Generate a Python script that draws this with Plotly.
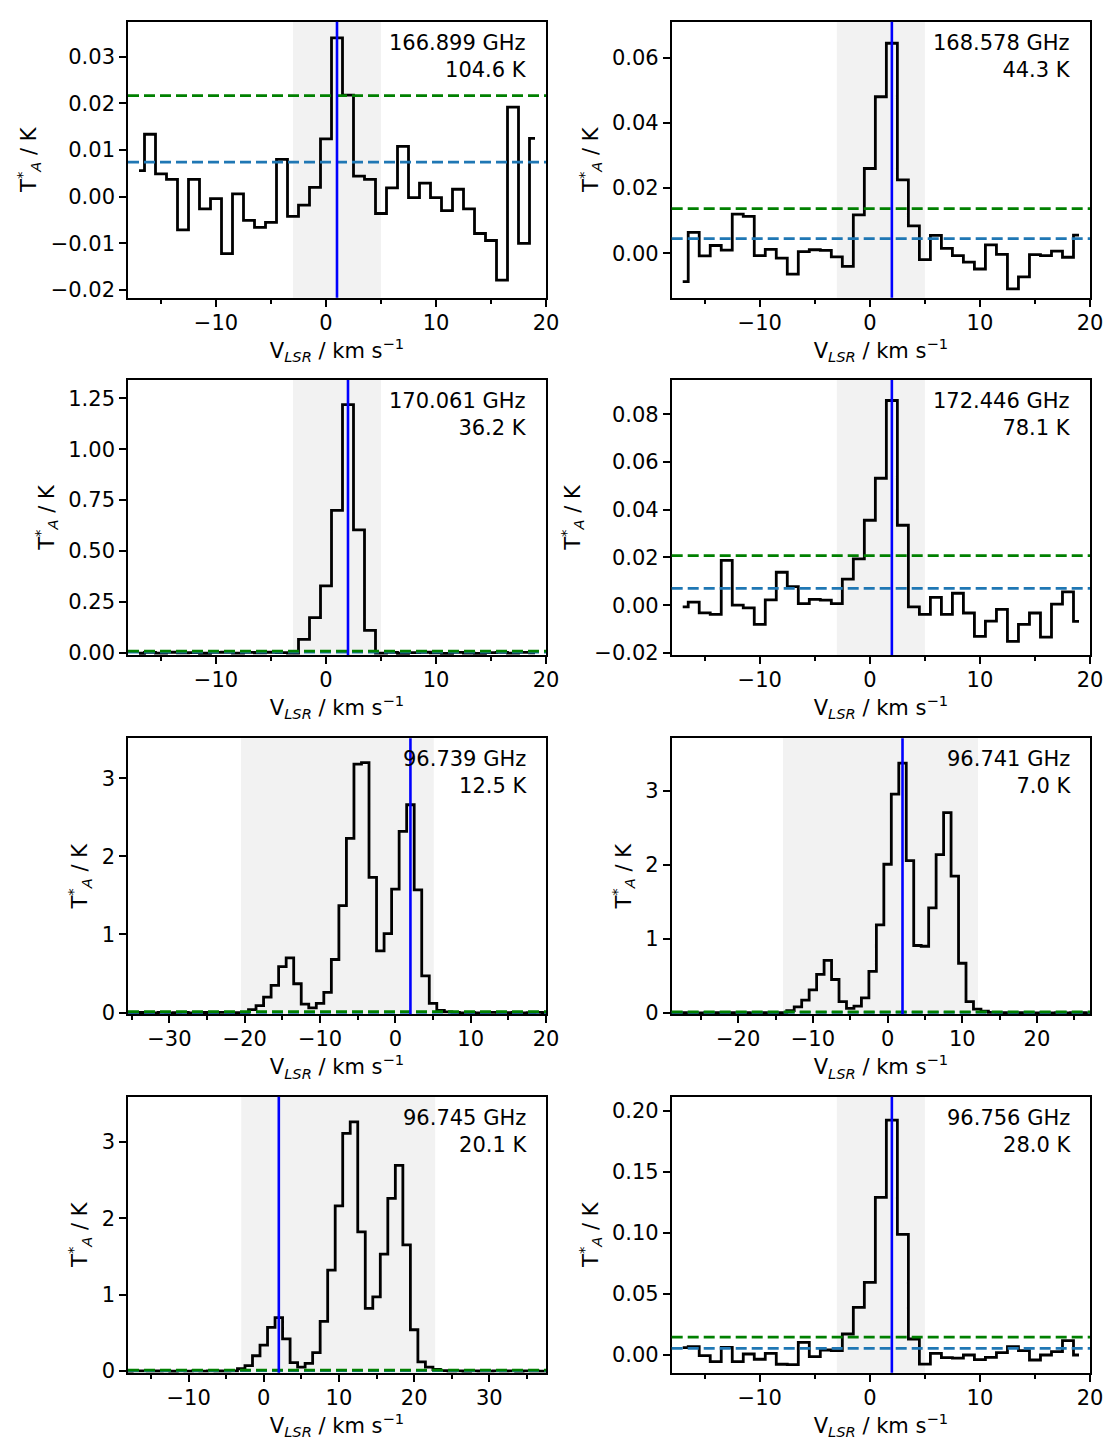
import plotly.graph_objects as go

# ---------------- data ----------------
freq_labels = ["166.899 GHz", "168.578 GHz", "170.061 GHz", "172.446 GHz",
               "96.739 GHz", "96.741 GHz", "96.745 GHz", "96.756 GHz"]
eup_labels = ["104.6 K", "44.3 K", "36.2 K", "78.1 K",
              "12.5 K", "7.0 K", "20.1 K", "28.0 K"]

# first channel velocity (km/s) of each spectrum; channels are 1 km/s wide
v_start = [-17, -17, -17, -17, -36, -29, -19, -17]

t1 = [0.0056, 0.0134, 0.0049, 0.0037, -0.0071, 0.0037, -0.0026, -0.0004, -0.0122, 0.0006,
      -0.0051, -0.0066, -0.0055, 0.0080, -0.0042, -0.0018, 0.0020, 0.0124, 0.0341, 0.0218,
      0.0044, 0.0037, -0.0036, 0.0019, 0.0108, -0.0002, 0.0029, -0.0002, -0.0030, 0.0016,
      -0.0026, -0.0079, -0.0094, -0.0179, 0.0192, -0.0100, 0.0125]
t2 = [-0.0087, 0.0064, -0.0008, 0.0024, 0.0010, 0.0120, 0.0113, -0.0007, 0.0012, -0.0015,
      -0.0064, 0.0005, 0.0011, 0.0009, -0.0011, -0.0040, 0.0118, 0.0260, 0.0480, 0.0644,
      0.0225, 0.0084, -0.0019, 0.0055, 0.0015, -0.0007, -0.0027, -0.0048, 0.0026, -0.0003,
      -0.0109, -0.0072, -0.0004, -0.0007, 0.0007, -0.0012, 0.0056]
t3 = [-0.003, 0.001, -0.002, 0.002, -0.001, 0.000, -0.003, 0.001, 0.002, -0.002,
      0.001, -0.001, 0.002, 0.000, -0.002, 0.0655, 0.172, 0.328, 0.699, 1.219,
      0.603, 0.110, -0.002, 0.001, -0.003, 0.000, 0.002, -0.001, -0.004, 0.001,
      -0.002, -0.004, 0.000, 0.001, -0.002, 0.001, -0.001]
t4 = [-0.0007, 0.0013, -0.0032, -0.0039, 0.0188, 0.0000, -0.0011, -0.0081, 0.0022, 0.0138,
      0.0078, 0.0006, 0.0024, 0.0021, 0.0006, 0.0109, 0.0194, 0.0356, 0.0532, 0.0858,
      0.0335, -0.0007, -0.0039, 0.0033, -0.0039, 0.0050, -0.0033, -0.0131, -0.0067, -0.0018,
      -0.0152, -0.0081, -0.0033, -0.0134, 0.0004, 0.0056, -0.0068]
t5 = [0.004, -0.003, 0.002, 0.000, -0.004, 0.003, -0.002, 0.001, 0.004, -0.003,
      0.000, 0.002, -0.002, 0.003, -0.001, 0.001, -0.003, 0.04, 0.09, 0.20,
      0.35, 0.59, 0.70, 0.37, 0.11, 0.06, 0.12, 0.26, 0.68, 1.37,
      2.23, 3.18, 3.20, 1.73, 0.79, 1.01, 1.58, 2.32, 2.66, 1.57,
      0.47, 0.12, 0.03, 0.01, 0.003, -0.002, 0.002, -0.003, 0.001, 0.003,
      -0.002, 0.000, 0.002, -0.003, 0.001, 0.003, -0.001]
t6 = [0.002, -0.003, 0.001, 0.003, -0.002, 0.000, 0.002, -0.003, 0.001, -0.001,
      0.003, -0.002, 0.001, 0.000, -0.002, 0.002, 0.03, 0.08, 0.17, 0.31,
      0.52, 0.71, 0.45, 0.15, 0.06, 0.09, 0.20, 0.56, 1.19, 2.01,
      2.96, 3.38, 2.06, 0.91, 0.90, 1.42, 2.14, 2.71, 1.85, 0.67,
      0.15, 0.05, 0.02, 0.004, -0.002, 0.001, -0.003, 0.002, 0.000, -0.002,
      0.003, -0.001, 0.002, -0.003, 0.001, 0.000, -0.002, 0.002, 0.001]
t7 = [0.002, -0.003, 0.001, 0.003, -0.002, 0.000, 0.002, -0.003, 0.001, -0.001,
      0.003, -0.002, 0.001, 0.000, -0.002, 0.002, 0.03, 0.07, 0.20, 0.34,
      0.57, 0.70, 0.42, 0.11, 0.05, 0.10, 0.24, 0.65, 1.32, 2.16,
      3.11, 3.26, 1.82, 0.82, 0.97, 1.53, 2.26, 2.69, 1.65, 0.54,
      0.12, 0.05, 0.02, 0.004, -0.002, 0.001, -0.003, 0.002, 0.000, -0.002,
      0.003, -0.001, 0.002, -0.003, 0.001, 0.000, -0.002, 0.002]
t8 = [0.0060, 0.0068, -0.0005, -0.0055, 0.0063, -0.0055, 0.0008, -0.0035, 0.0014, -0.0076,
      -0.0079, 0.0104, -0.0014, 0.0041, 0.0035, 0.0172, 0.0390, 0.0595, 0.1291, 0.1924,
      0.0988, 0.0131, -0.0074, 0.0014, -0.0022, -0.0025, 0.0000, -0.0038, -0.0019, 0.0019,
      0.0068, 0.0035, -0.0041, 0.0000, 0.0027, 0.0117, 0.0000]
spectra = [t1, t2, t3, t4, t5, t6, t7, t8]

v_source = [1.0, 2.0, 2.0, 2.0, 2.0, 2.0, 2.0, 2.0]     # blue vertical line
rms_level = [0.0074, 0.0045, 0.003, 0.0070, 0.004, 0.004, 0.004, 0.0055]   # blue dashed
sig3_level = [0.0217, 0.0137, 0.008, 0.0208, 0.013, 0.013, 0.013, 0.0147]  # green dashed
span_lo = [-3, -3, -3, -3, -20.5, -14.0, -3.0, -3]
span_hi = [5, 5, 5, 5, 5.1, 12.1, 22.8, 5]

x_ranges = [[-18, 20], [-18, 20], [-18, 20], [-18, 20],
            [-35.5, 20], [-28.9, 27.1], [-18.06, 37.54], [-18, 20]]
y_ranges = [[-0.02167, 0.03755], [-0.0136, 0.0710], [-0.0115, 1.340], [-0.0209, 0.0944],
            [-0.021, 3.51], [-0.021, 3.715], [-0.022, 3.59], [-0.0145, 0.2115]]
y_dticks = [0.01, 0.02, 0.25, 0.02, 1, 1, 1, 0.05]
y_formats = [".2f", ".2f", ".2f", ".2f", "d", "d", "d", ".2f"]

# ---------------- layout geometry ----------------
W, H = 1119, 1454
col_px = [(128, 546), (671.7, 1090)]
row_px = [(21.7, 297.7), (380, 655), (738.3, 1014.3), (1096.7, 1372.7)]

FONT = "DejaVu Sans"
TICK_SIZE = 21

fig = go.Figure()
shapes = []
annotations = []
layout_axes = {}

for i in range(8):
    k = i + 1
    sfx = "" if k == 1 else str(k)
    r, c = divmod(i, 2)
    x0p, x1p = col_px[c]
    y0p, y1p = row_px[r]
    xdom = [x0p / W, x1p / W]
    ydom = [1 - y1p / H, 1 - y0p / H]

    vals = spectra[i]
    v = [v_start[i] + j for j in range(len(vals))]

    fig.add_trace(go.Scatter(
        x=v, y=vals, mode="lines",
        line=dict(color="black", width=2.8, shape="hvh"),
        xaxis="x" + sfx, yaxis="y" + sfx, showlegend=False, hoverinfo="skip"))

    common = dict(showline=True, mirror=True, linecolor="black", linewidth=1.6,
                  ticks="outside", ticklen=7, tickwidth=1.6, tickcolor="black",
                  showgrid=False, zeroline=False, automargin=False,
                  tickfont=dict(family=FONT, size=TICK_SIZE, color="black"))

    layout_axes["xaxis" + sfx] = dict(
        domain=xdom, anchor="y" + sfx, range=x_ranges[i],
        tickmode="linear", tick0=0, dtick=10, ticklabelstandoff=-2,
        minor=dict(ticks="outside", ticklen=4, tickwidth=1.6, tickcolor="black",
                   tickmode="linear", tick0=0, dtick=5, showgrid=False),
        title=dict(text="V<sub><i>LSR</i></sub> / km s<sup>\u22121</sup>",
                   font=dict(family=FONT, size=TICK_SIZE, color="black"), standoff=6),
        **common)
    layout_axes["yaxis" + sfx] = dict(
        domain=ydom, anchor="x" + sfx, range=y_ranges[i],
        tickmode="linear", tick0=0, dtick=y_dticks[i], tickformat=y_formats[i],
        title=dict(text="T<sup>*</sup><sub><i>A</i></sub> / K",
                   font=dict(family=FONT, size=TICK_SIZE, color="black"), standoff=8),
        **common)

    xr = "x" + sfx
    yr = "y" + sfx
    shapes.append(dict(type="rect", xref=xr, yref=yr + " domain",
                       x0=span_lo[i], x1=span_hi[i], y0=0, y1=1,
                       fillcolor="#f2f2f2", line=dict(width=0), layer="below"))
    shapes.append(dict(type="line", xref=xr + " domain", yref=yr,
                       x0=0, x1=1, y0=rms_level[i], y1=rms_level[i],
                       line=dict(color="#1f77b4", width=2.8, dash="11px,5px"), layer="above"))
    shapes.append(dict(type="line", xref=xr + " domain", yref=yr,
                       x0=0, x1=1, y0=sig3_level[i], y1=sig3_level[i],
                       line=dict(color="green", width=2.8, dash="11px,5px"), layer="above"))
    shapes.append(dict(type="line", xref=xr, yref=yr + " domain",
                       x0=v_source[i], x1=v_source[i], y0=0, y1=1,
                       line=dict(color="blue", width=2.6), layer="above"))

    annotations.append(dict(xref=xr + " domain", yref=yr + " domain", x=1, y=1,
                            xanchor="right", yanchor="top", xshift=-17, yshift=-7,
                            text=freq_labels[i] + "<br>" + eup_labels[i],
                            align="right", showarrow=False,
                            font=dict(family=FONT, size=21, color="black")))

fig.update_layout(
    width=W, height=H,
    margin=dict(l=0, r=0, t=0, b=0),
    paper_bgcolor="white", plot_bgcolor="white",
    font=dict(family=FONT, size=TICK_SIZE, color="black"),
    shapes=shapes, annotations=annotations,
    showlegend=False,
    **layout_axes)

fig.write_html("out.html")
